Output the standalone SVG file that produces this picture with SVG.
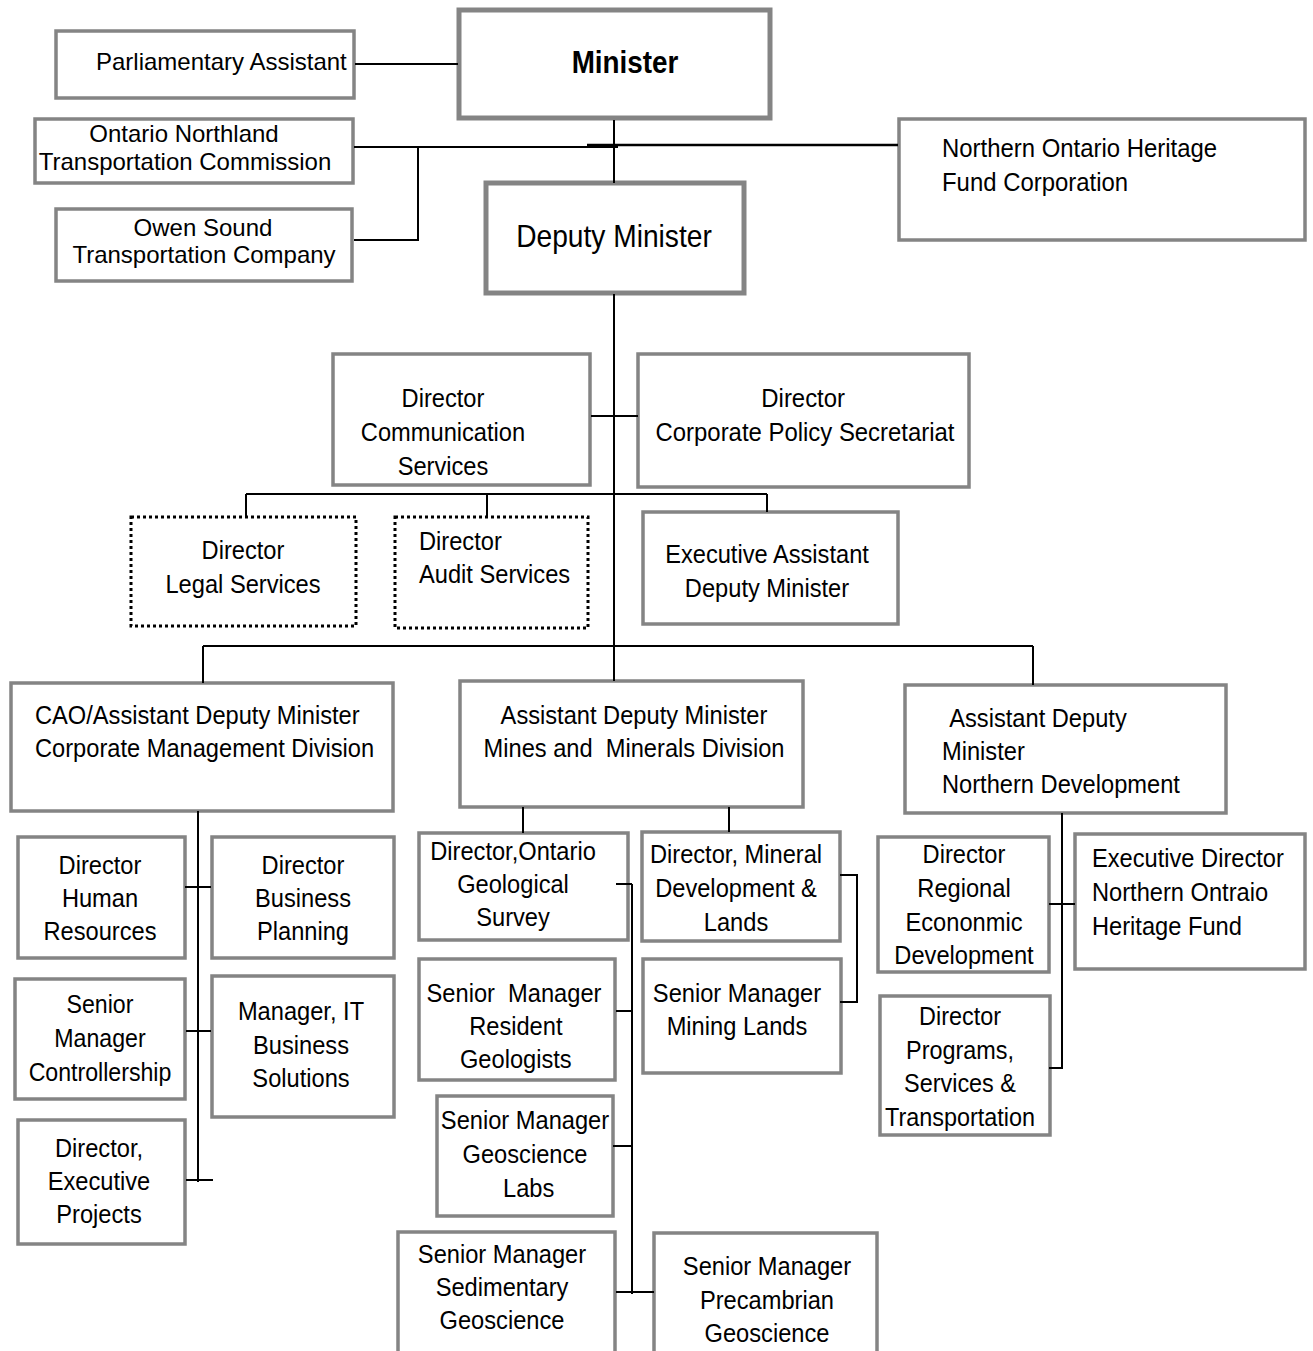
<svg xmlns="http://www.w3.org/2000/svg" width="1313" height="1351" viewBox="0 0 1313 1351">
<style>
.b{fill:#fff;stroke:#848484;stroke-width:3.5}
.bt{fill:#fff;stroke:#848484;stroke-width:5}
.d{fill:#fff;stroke:#000;stroke-width:3;stroke-dasharray:3 3}
.c{stroke:#000;stroke-width:2;fill:none}
text{font-family:"Liberation Sans",Arial,sans-serif;font-size:26px;fill:#000}
.s{font-size:24px}
.m{text-anchor:middle}
.big{font-size:32px}
.bold{font-weight:bold}
</style>
<rect x="0" y="0" width="1313" height="1351" fill="#fff"/>
<g id="nodes">
<g id="parliamentary-assistant"><rect class="b" x="56" y="31" width="298" height="67"/><text class="s" x="96" y="70">Parliamentary Assistant</text></g>
<g id="ontc"><rect class="b" x="35" y="119" width="318" height="64"/><text class="s m"><tspan x="184" y="142">Ontario Northland</tspan><tspan x="185" y="170">Transportation Commission</tspan></text></g>
<g id="owen-sound"><rect class="b" x="56" y="209" width="296" height="72"/><text class="s m"><tspan x="203" y="236">Owen Sound</tspan><tspan x="204" y="263">Transportation Company</tspan></text></g>
<g id="minister"><rect class="bt" x="459" y="10" width="311" height="108"/><text class="big bold m" transform="matrix(0.87 0 0 1 625 0)" x="0" y="73">Minister</text></g>
<g id="deputy-minister"><rect class="bt" x="486" y="183" width="258" height="110"/><text class="big m" transform="matrix(0.88 0 0 1 614 0)" x="0" y="247">Deputy Minister</text></g>
<g id="nohfc"><rect class="b" x="899" y="119" width="406" height="121"/><text transform="matrix(0.92 0 0 1 942 0)"><tspan x="0" y="157">Northern Ontario Heritage</tspan><tspan x="0" y="191">Fund Corporation</tspan></text></g>
<g id="dir-communication"><rect class="b" x="333" y="354" width="257" height="131"/><text class="m" transform="matrix(0.91 0 0 1 443 0)"><tspan x="0" y="407">Director</tspan><tspan x="0" y="441">Communication</tspan><tspan x="0" y="475">Services</tspan></text></g>
<g id="dir-policy"><rect class="b" x="638" y="354" width="331" height="133"/><text class="m" transform="matrix(0.92 0 0 1 805 0)"><tspan x="-2" y="407">Director</tspan><tspan x="0" y="441">Corporate Policy Secretariat</tspan></text></g>
<g id="dir-legal"><rect class="d" x="131" y="517" width="225" height="109"/><text class="m" transform="matrix(0.91 0 0 1 243 0)"><tspan x="0" y="559">Director</tspan><tspan x="0" y="593">Legal Services</tspan></text></g>
<g id="dir-audit"><rect class="d" x="395" y="517" width="193" height="111"/><text transform="matrix(0.91 0 0 1 419 0)"><tspan x="0" y="550">Director</tspan><tspan x="0" y="583">Audit Services</tspan></text></g>
<g id="exec-assistant"><rect class="b" x="643" y="512" width="255" height="112"/><text class="m" transform="matrix(0.91 0 0 1 767 0)"><tspan x="0" y="563">Executive Assistant</tspan><tspan x="0" y="597">Deputy Minister</tspan></text></g>
<g id="adm-corporate"><rect class="b" x="11" y="683" width="382" height="128"/><text transform="matrix(0.91 0 0 1 35 0)"><tspan x="0" y="724">CAO/Assistant Deputy Minister</tspan><tspan x="0" y="757">Corporate Management Division</tspan></text></g>
<g id="adm-mines"><rect class="b" x="460" y="681" width="343" height="126"/><text class="m" xml:space="preserve" transform="matrix(0.91 0 0 1 634 0)"><tspan x="0" y="724">Assistant Deputy Minister</tspan><tspan x="0" y="757">Mines and  Minerals Division</tspan></text></g>
<g id="adm-northern"><rect class="b" x="905" y="685" width="321" height="128"/><text transform="matrix(0.91 0 0 1 942 0)"><tspan x="8" y="727">Assistant Deputy</tspan><tspan x="0" y="760">Minister</tspan><tspan x="0" y="793">Northern Development</tspan></text></g>
<g id="dir-hr"><rect class="b" x="18" y="837" width="167" height="121"/><text class="m" transform="matrix(0.91 0 0 1 100 0)"><tspan x="0" y="874">Director</tspan><tspan x="0" y="907">Human</tspan><tspan x="0" y="940">Resources</tspan></text></g>
<g id="dir-business-planning"><rect class="b" x="212" y="837" width="182" height="121"/><text class="m" transform="matrix(0.91 0 0 1 303 0)"><tspan x="0" y="874">Director</tspan><tspan x="0" y="907">Business</tspan><tspan x="0" y="940">Planning</tspan></text></g>
<g id="sm-controllership"><rect class="b" x="15" y="979" width="170" height="120"/><text class="m" transform="matrix(0.89 0 0 1 100 0)"><tspan x="0" y="1013">Senior</tspan><tspan x="0" y="1047">Manager</tspan><tspan x="0" y="1081">Controllership</tspan></text></g>
<g id="mgr-it"><rect class="b" x="212" y="976" width="182" height="141"/><text class="m" transform="matrix(0.91 0 0 1 301 0)"><tspan x="0" y="1020">Manager, IT</tspan><tspan x="0" y="1054">Business</tspan><tspan x="0" y="1087">Solutions</tspan></text></g>
<g id="dir-exec-projects"><rect class="b" x="18" y="1120" width="167" height="124"/><text class="m" transform="matrix(0.91 0 0 1 99 0)"><tspan x="0" y="1157">Director,</tspan><tspan x="0" y="1190">Executive</tspan><tspan x="0" y="1223">Projects</tspan></text></g>
<g id="dir-ogs"><rect class="b" x="419" y="833" width="209" height="107"/><text class="m" transform="matrix(0.91 0 0 1 513 0)"><tspan x="0" y="860">Director,Ontario</tspan><tspan x="0" y="893">Geological</tspan><tspan x="0" y="926">Survey</tspan></text></g>
<g id="dir-mineral"><rect class="b" x="642" y="832" width="198" height="109"/><text class="m" transform="matrix(0.91 0 0 1 736 0)"><tspan x="0" y="863">Director, Mineral</tspan><tspan x="0" y="897">Development &amp;</tspan><tspan x="0" y="931">Lands</tspan></text></g>
<g id="sm-resident"><rect class="b" x="419" y="959" width="196" height="121"/><text class="m" xml:space="preserve" transform="matrix(0.91 0 0 1 514 0)"><tspan x="0" y="1002">Senior  Manager</tspan><tspan x="2" y="1035">Resident</tspan><tspan x="2" y="1068">Geologists</tspan></text></g>
<g id="sm-mining-lands"><rect class="b" x="643" y="959" width="198" height="114"/><text class="m" transform="matrix(0.91 0 0 1 737 0)"><tspan x="0" y="1002">Senior Manager</tspan><tspan x="0" y="1035">Mining Lands</tspan></text></g>
<g id="sm-labs"><rect class="b" x="437" y="1096" width="176" height="120"/><text class="m" transform="matrix(0.91 0 0 1 525 0)"><tspan x="0" y="1129">Senior Manager</tspan><tspan x="0" y="1163">Geoscience</tspan><tspan x="4" y="1197">Labs</tspan></text></g>
<g id="sm-sedimentary"><rect class="b" x="398" y="1232" width="217" height="130"/><text class="m" transform="matrix(0.91 0 0 1 502 0)"><tspan x="0" y="1263">Senior Manager</tspan><tspan x="0" y="1296">Sedimentary</tspan><tspan x="0" y="1329">Geoscience</tspan></text></g>
<g id="sm-precambrian"><rect class="b" x="654" y="1233" width="223" height="130"/><text class="m" transform="matrix(0.91 0 0 1 767 0)"><tspan x="0" y="1275">Senior Manager</tspan><tspan x="0" y="1309">Precambrian</tspan><tspan x="0" y="1342">Geoscience</tspan></text></g>
<g id="dir-regional"><rect class="b" x="878" y="837" width="171" height="135"/><text class="m" transform="matrix(0.91 0 0 1 964 0)"><tspan x="0" y="863">Director</tspan><tspan x="0" y="897">Regional</tspan><tspan x="0" y="931">Econonmic</tspan><tspan x="0" y="964">Development</tspan></text></g>
<g id="exec-dir-nohf"><rect class="b" x="1075" y="834" width="230" height="135"/><text transform="matrix(0.91 0 0 1 1092 0)"><tspan x="0" y="867">Executive Director</tspan><tspan x="0" y="901">Northern Ontraio</tspan><tspan x="0" y="935">Heritage Fund</tspan></text></g>
<g id="dir-programs"><rect class="b" x="880" y="996" width="170" height="139"/><text class="m" transform="matrix(0.9 0 0 1 960 0)"><tspan x="0" y="1025">Director</tspan><tspan x="0" y="1059">Programs,</tspan><tspan x="0" y="1092">Services &amp;</tspan><tspan x="0" y="1126">Transportation</tspan></text></g>
</g>
<g id="connectors" class="c">
<path d="M355 64H458"/>
<path d="M614 120V183"/>
<path d="M354 147H618"/>
<path d="M587 145H898" stroke-width="2.5"/>
<path d="M418 147V241M354 240H418"/>
<path d="M614 294V681"/>
<path d="M591 416H638"/>
<path d="M246 494H767M246 494V517M487 494V517M767 494V512"/>
<path d="M203 646H1033M203 646V683M1033 646V685"/>
<path d="M198 811V1182M185 887H211M186 1031H211M186 1180H213"/>
<path d="M523 807V833M729 807V832M632 884V1294M616 884H632M616 1011H632M613 1146H632M616 1292H654"/>
<path d="M840 875H857V1002H840"/>
<path d="M1062 813V1069M1049 904H1075M1049 1068H1063"/>
</g>
</svg>
